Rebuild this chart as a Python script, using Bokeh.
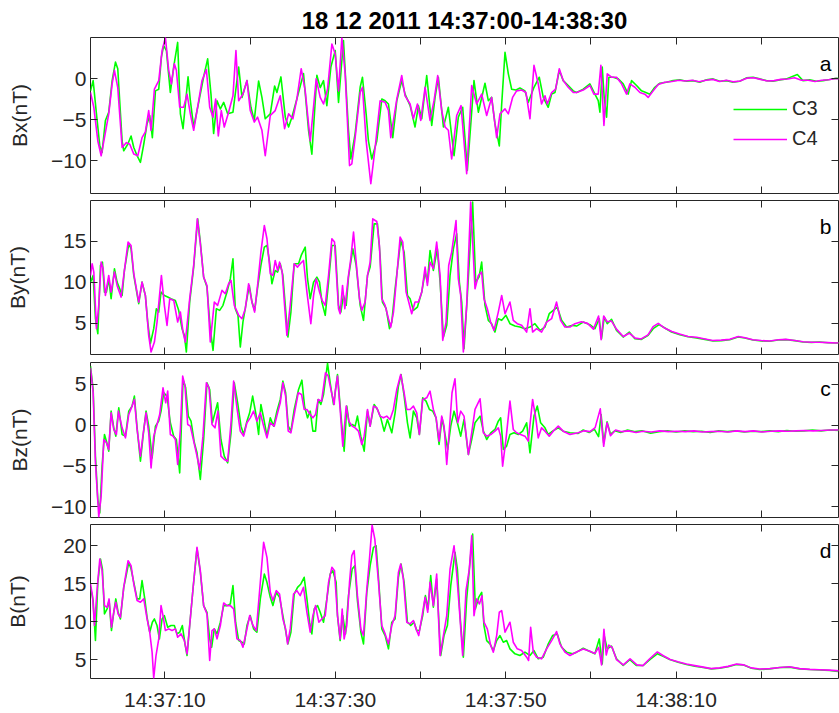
from bokeh.plotting import figure
from bokeh.layouts import column
from bokeh.models import Range1d, FixedTicker, LinearAxis, Legend, LegendItem, Label
from bokeh.embed import file_html
from bokeh.resources import INLINE

# ---------------------------------------------------------------------------
# Magnetic field components, seconds after 14:37:00 UT, 18 Dec 2011 (nT)
# ---------------------------------------------------------------------------

# Bx, C3
T_BX_C3 = [1.27, 1.58, 1.97, 2.36, 2.63, 3.02, 3.41, 3.81, 4.20, 4.47, 4.98, 5.17, 5.64, 6.03, 6.35,
           6.74, 7.13, 7.52, 7.91, 8.22, 8.53, 8.89, 9.28, 9.59, 9.86, 10.18, 10.64, 11.03, 11.50, 11.82,
           12.13, 12.72, 12.99, 13.38, 13.97, 14.55, 15.02, 15.41, 15.72, 16.12, 16.51, 16.90, 17.37, 17.99, 18.66,
           19.05, 19.63, 20.10, 20.49, 21.00, 21.39, 21.78, 22.37, 22.88, 23.15, 23.62, 24.13, 24.52, 24.91, 25.49,
           26.27, 26.86, 27.25, 27.84, 28.23, 28.62, 29.01, 29.48, 29.99, 30.38,
           30.96, 31.55, 31.82, 32.33, 32.92, 33.19, 33.62, 33.89, 34.28, 34.87, 35.46, 35.85, 36.24, 36.75, 37.22,
           37.80, 38.19, 38.78, 39.36, 39.76, 40.15, 40.73, 41.32, 41.71, 42.10, 42.69, 43.27, 43.94, 44.44, 44.95,
           45.50, 46.28, 46.79, 47.57, 47.96, 48.35, 48.74, 49.25, 49.52, 49.92, 50.31, 50.70, 51.21, 51.67, 52.26,
           52.65, 53.32, 53.94, 54.41, 54.99, 55.39, 55.78, 56.29, 56.75, 57.34, 57.93,
           58.32, 59.10, 59.88, 60.47, 60.86, 61.06, 61.33, 61.56, 61.84, 62.11, 62.62, 63.21, 63.79, 64.38, 64.77,
           65.36, 65.94, 66.45, 66.92, 67.50, 68.09, 68.87, 69.65, 70.44, 71.22, 72.00, 72.78, 73.56, 74.34, 75.13,
           75.91, 76.69, 77.47, 78.25, 79.03, 79.81, 80.60, 81.38, 82.16, 82.94, 84.23, 84.89, 85.68, 86.46, 87.24,
           88.02, 88.80, 89.19]
BX_C3 = [-1.5, -0.25, -4.3, -8.2, -9.0, -5.1, -4.1, -0.25, 2.0, 1.2, -7.6, -8.8, -8.0, -7.0, -8.4,
         -9.4, -10.2, -8.0, -5.5, -4.5, -7.2, -1.5, -1.3, 2.6, 4.0, 3.4, -1.7, 1.4, 4.4, -4.3,
         -6.1, 0.2, -2.7, -5.9, -2.9, 0.2, 2.4, -1.9, -6.7, -2.7, -3.7, -2.9, -4.3, -4.1, 1.4,
         -2.3, -0.25, -3.5, -5.1, -0.3, -2.3, -4.9, -4.3, -0.9, -1.7, 0.2, -4.7, -5.9, -4.7, -2.5,
         0.6, -6.3, -9.2, 0.4, -1.1, -0.25, -3.3, 1.4, 3.4, -2.9,
         4.63, -6.3, -9.8, -6.7, -1.06, 0.16, -4.3, -7.6, -9.8, -7.6, -2.5, -2.7, -3.1, -7.2, -2.7,
         -0.25, -1.9, -3.3, -5.9, -3.3, -4.9, 0.37, -5.7, -2.3, 0.16, -5.9, -3.5, -9.4, -4.7, -3.5,
         -11.2, -0.25, -4.1, -0.57, -2.7, -2.3, -5.5, -8.2, -3.3, 3.2, 0.57, -1.3, -1.4, -1.15, -1.5,
         -2.9, -1.06, 0.16, -2.3, -3.5, -1.9, -1.7, 0.98, -0.25, -0.85, -1.5,
         -1.7, -1.3, -0.65, -1.9, -2.7, -4.1, 1.4, -2.3, -4.7, 0.16, 0.16, -0.04, -0.65, -1.9, -0.25,
         -0.85, -1.5, -1.7, -1.9, -1.06, -0.57, -0.45, -0.25, -0.16, -0.33, -0.25, -0.45, -0.16, -0.04, -0.33,
         -0.25, -0.45, -0.33, 0.08, 0.16, -0.04, -0.25, -0.33, -0.16, -0.04, 0.49, -0.25, -0.16, -0.33, -0.25,
         -0.12, 0.04, 0.0]

# Bx, C4
T_BX_C4 = [1.27, 1.66, 2.13, 2.52, 2.91, 3.41, 3.81, 4.08, 4.47, 4.98, 5.49, 5.88, 6.35, 6.82, 7.32,
           7.71, 8.10, 8.38, 8.77, 9.28, 9.67, 10.06, 10.45, 10.76, 11.11, 11.35, 11.74, 12.21, 12.60, 12.99,
           13.38, 13.97, 14.36, 14.87, 15.26, 15.65, 15.96, 16.27, 16.62, 16.97, 17.48, 17.99, 18.34, 18.66, 19.16,
           19.63, 20.02, 20.49, 20.88, 21.39, 21.78, 22.37, 22.95, 23.54, 24.05, 24.52, 25.02, 25.49, 26.00, 26.47,
           27.06, 27.37, 27.76, 28.23, 28.62, 29.09, 29.60, 29.99, 30.38,
           30.77, 31.16, 31.67, 31.94, 32.33, 32.92, 33.19, 33.62, 34.17, 34.68, 35.26, 35.85, 36.24, 36.51, 37.22,
           37.80, 38.19, 38.78, 39.17, 39.64, 40.03, 40.54, 41.12, 41.59, 42.02, 42.49, 42.88, 43.27, 43.66, 44.25,
           44.76, 45.42, 46.01, 46.59, 47.18, 47.77, 48.35, 48.94, 49.33, 49.92, 50.31, 50.81, 51.28, 51.87, 52.38,
           52.85, 53.32, 53.82, 54.21, 54.61, 54.88, 55.39, 55.86, 56.29, 56.75, 57.34, 57.93,
           58.32, 59.10, 59.88, 60.35, 60.86, 61.17, 61.53, 61.92, 62.42, 63.01, 63.60, 64.18, 64.57, 65.16, 65.75,
           66.33, 66.72, 67.31, 67.90, 68.68, 69.5, 70.3, 71.1, 71.9, 72.7, 73.5, 74.3, 75.1, 75.9, 76.7,
           77.5, 78.3, 79.1, 79.9, 80.7, 81.5, 82.3, 83.1, 83.9, 84.7, 85.5, 86.3, 87.1, 87.9, 88.7, 89.2]
BX_C4 = [-1.7, -3.5, -7.6, -9.4, -7.2, -4.3, -0.65, 1.0, -1.1, -8.4, -7.8, -8.0, -9.2, -9.4, -7.2,
         -6.5, -3.9, -6.3, -1.3, -0.25, 3.4, 5.0, 1.0, -0.65, 1.8, 1.0, -3.5, -3.5, -1.9, -4.3,
         -6.3, -2.7, -0.25, 1.1, -3.5, -4.7, -2.5, -7.0, -3.9, -5.9, -4.1, -2.1, 3.4, -2.7, -1.9,
         -0.25, -3.9, -5.3, -4.7, -6.3, -9.4, -4.5, -3.9, -2.1, -6.1, -4.3, -4.9, -2.5, 1.2, -1.5,
         -7.6, -4.3, -0.04, -2.3, -3.1, -1.3, 4.2, 3.0, -1.5,
         4.96, 0.57, -10.6, -10.4, -7.2, -1.7, -1.06, -7.6, -12.8, -8.4, -2.7, -2.9, -3.9, -7.2, -2.5,
         0.37, -2.1, -3.1, -4.9, -3.1, -5.1, -1.06, -5.1, -2.7, 0.37, -3.9, -5.9, -6.3, -9.8, -4.5,
         -3.3, -11.6, -0.85, -3.1, -1.9, -4.5, -2.3, -7.2, -4.3, -3.7, -4.3, -2.3, -1.5, -1.4, -1.7,
         -4.9, 1.6, -0.65, -3.1, -2.1, -3.1, -1.7, -1.3, 1.2, -0.25, -1.06, -1.7,
         -1.7, -1.4, -0.85, -1.9, -1.9, 1.6, -5.7, 0.57, 0.16, 0.16, -0.65, -1.9, -0.65, -1.06, -1.7,
         -1.9, -2.3, -1.5, -0.73, -0.45, -0.35, -0.2, -0.3, -0.2, -0.4, -0.2, -0.1, -0.35, -0.2, -0.4,
         -0.3, 0.05, 0.1, -0.1, -0.3, -0.25, -0.1, -0.05, 0.1, -0.2, -0.2, -0.35, -0.2, -0.15, 0.0, -0.05]

# By, C3
T_BY_C3 = [1.27, 1.58, 1.85, 2.13, 2.44, 2.67, 2.91, 3.14, 3.41, 3.69, 4.08, 4.39, 4.70, 4.98, 5.25,
           5.76, 6.03, 6.35, 6.93, 7.32, 7.71, 7.99, 8.30, 8.69, 9.00, 9.28, 9.55, 9.94, 10.33, 10.72,
           11.23, 11.62, 12.01, 12.29, 12.52, 12.91, 13.38, 13.85, 14.16, 14.55, 14.94, 15.33, 15.65, 16.04, 16.43,
           16.82, 17.29, 17.68, 17.99, 18.26, 18.58, 18.85, 19.16, 19.63, 19.91, 20.22, 20.53, 20.92, 21.27, 21.67,
           21.98, 22.29, 22.56, 22.95, 23.23, 23.54, 23.85, 24.13, 24.44, 24.79, 25.18, 25.69, 26.00, 26.47, 26.74,
           27.06, 27.45, 27.84, 28.15, 28.43, 28.82, 29.21, 29.60,
           29.99, 30.38, 30.65, 30.96, 31.28, 31.55, 32.06, 32.45, 32.92, 33.31, 33.78, 34.09, 34.56, 34.95, 35.26,
           35.53, 35.97, 36.36, 36.63, 37.02, 37.68, 38.08, 38.47, 38.78, 39.17, 39.64, 40.15, 40.54, 40.81, 41.12,
           41.51, 41.98, 42.30, 42.69, 43.08, 43.47, 43.86, 44.25, 44.56, 44.84, 45.11, 45.50, 46.12, 46.48, 46.87,
           47.18, 47.57, 47.96, 48.35, 48.74, 49.13, 49.53, 50.03, 50.50, 51.09, 51.67, 52.26, 52.85, 53.43, 54.02,
           54.61, 55.11, 55.58, 56.05, 56.56, 57.15, 57.85,
           58.32, 59.10, 59.88, 60.47, 60.98, 61.25, 61.56, 61.92, 62.42, 63.01, 63.79, 64.50, 65.16, 65.94, 66.72,
           67.31, 68.01, 68.68, 69.46, 70.44, 71.41, 72.39, 73.37, 74.34, 75.32, 76.30, 77.27, 78.06, 79.03, 80.01,
           80.99, 81.96, 82.94, 83.92, 84.89, 85.87, 86.85, 87.83, 88.80, 89.39]
BY_C3 = [10.04, 10.85, 5.57, 3.74, 12.07, 12.48, 8.82, 8.82, 10.45, 8.01, 11.67, 10.04, 9.23, 8.41, 11.46,
         14.72, 14.1, 10.85, 7.4, 10.04, 8.41, 5.16, 2.52, 4.35, 6.79, 6.38, 8.82, 8.41, 8.21, 8.01,
         7.8, 6.59, 4.35, 3.54, 1.5, 7.6, 11.87, 17.76, 14.92, 10.65, 9.43, 4.35, 1.71, 6.79, 6.59,
         7.2, 8.82, 10.45, 12.89, 6.79, 5.98, 2.11, 5.16, 8.01, 9.63, 7.6, 6.59, 9.63, 12.07, 14.31,
         14.51, 12.48, 9.84, 11.46, 11.26, 12.28, 10.85, 7.2, 3.33, 6.38, 12.28, 12.28, 13.29, 14.31, 10.45,
         8.01, 10.04, 10.65, 10.04, 7.6, 5.98, 10.04, 14.51,
         14.51, 7.2, 6.38, 8.41, 7.2, 10.65, 14.1, 12.07, 7.2, 5.37, 10.85, 11.87, 17.15, 17.15, 13.29,
         7.6, 6.79, 4.35, 5.16, 9.23, 15.12, 13.7, 8.41, 8.01, 6.59, 6.99, 8.82, 11.26, 10.04, 13.9,
         11.46, 14.1, 10.04, 3.33, 4.76, 10.85, 14.1, 15.94, 10.04, 7.6, 1.91, 8.41, 19.8, 10.04, 10.65,
         12.48, 7.2, 5.37, 4.96, 3.94, 5.57, 5.37, 5.98, 4.96, 4.67, 4.55, 4.35, 4.55, 4.96, 4.15,
         4.55, 6.18, 6.59, 6.99, 5.37, 4.55, 4.76,
         4.67, 5.16, 4.84, 4.35, 5.57, 3.13, 5.77, 4.96, 5.49, 4.15, 3.33, 3.94, 3.13, 3.05, 3.54,
         4.35, 4.84, 4.43, 3.94, 3.62, 3.37, 3.21, 3.05, 2.85, 2.89, 3.01, 3.33, 3.21, 2.97, 2.85,
         2.81, 2.97, 3.01, 2.89, 2.72, 2.68, 2.72, 2.64, 2.6, 2.62]

# By, C4
T_BY_C4 = [1.27, 1.46, 1.66, 1.97, 2.24, 2.52, 2.75, 3.02, 3.41, 3.69, 4.08, 4.39, 4.86, 5.25, 5.68,
           6.03, 6.35, 6.93, 7.32, 7.71, 8.10, 8.38, 8.77, 9.08, 9.59, 9.94, 10.25, 10.57, 11.04, 11.50,
           11.82, 12.13, 12.40, 12.91, 13.38, 13.81, 14.16, 14.55, 14.94, 15.33, 15.80, 16.19, 16.70, 17.09, 17.48,
           17.76, 18.15, 18.66, 19.05, 19.44, 19.83, 20.22, 20.53, 20.92, 21.27, 21.67, 21.98, 22.37, 22.68, 22.95,
           23.23, 23.46, 23.77, 24.05, 24.32, 24.71, 25.18, 25.57, 25.88, 26.27, 26.67, 27.13, 27.45, 27.76, 28.15,
           28.46, 28.82, 29.21, 29.60, 29.91,
           30.38, 30.57, 30.85, 31.12, 31.55, 31.82, 32.14, 32.45, 32.84, 33.11, 33.50, 33.78, 34.09, 34.40, 34.87,
           35.18, 35.46, 35.85, 36.24, 36.51, 36.83, 37.22, 37.61, 37.92, 38.31, 38.62, 38.97, 39.36, 39.76, 40.15,
           40.54, 40.81, 41.12, 41.51, 41.90, 42.30, 42.61, 43.00, 43.31, 43.66, 44.17, 44.44, 44.72, 45.03, 45.42,
           45.89, 46.40, 46.79, 47.18, 47.45, 47.84, 48.23, 48.63, 49.13, 49.53, 49.92, 50.50, 50.89, 51.36, 51.87,
           52.46, 52.85, 53.16, 53.63, 54.21, 54.80, 55.39, 55.97, 56.44, 56.95, 57.54, 58.12,
           58.90, 59.60, 60.3, 60.9, 61.2, 61.5, 61.9, 62.4, 63.0, 63.8, 64.5, 65.2, 65.9, 66.7, 67.3,
           67.9, 68.7, 69.5, 70.4, 71.4, 72.4, 73.4, 74.3, 75.3, 76.3, 77.3, 78.1, 79.0, 80.0, 81.0,
           82.0, 82.9, 83.9, 84.9, 85.9, 86.8, 87.8, 88.8, 89.3]
BY_C4 = [10.85, 12.28, 11.26, 4.35, 7.2, 12.48, 11.67, 8.41, 10.85, 8.82, 11.26, 9.63, 8.21, 11.46, 14.92,
         14.51, 11.06, 7.6, 10.04, 8.41, 3.54, 1.5, 2.72, 5.16, 10.85, 7.2, 4.76, 8.01, 7.8, 5.16,
         6.38, 3.94, 2.72, 8.01, 12.07, 17.76, 14.72, 10.65, 9.63, 2.72, 7.6, 7.2, 9.03, 8.62, 9.84,
         10.24, 7.2, 5.98, 5.57, 6.79, 9.84, 7.6, 6.38, 10.04, 13.7, 16.95, 15.33, 11.06, 10.85, 12.68,
         11.46, 12.48, 11.26, 7.2, 3.54, 7.2, 12.28, 11.87, 12.28, 12.68, 8.82, 4.96, 8.41, 10.45, 8.82,
         7.8, 7.2, 10.85, 15.33, 14.92,
         6.79, 6.18, 9.63, 6.79, 10.85, 12.89, 16.14, 12.48, 8.01, 6.59, 7.6, 10.85, 12.48, 17.76, 17.44,
         14.51, 8.01, 7.2, 5.57, 4.55, 6.38, 10.85, 15.53, 14.92, 8.82, 7.6, 6.18, 7.6, 7.6, 8.82,
         11.87, 9.63, 12.48, 11.67, 14.92, 10.85, 2.93, 5.16, 12.07, 13.7, 17.56, 10.45, 8.41, 1.5, 7.2,
         19.8, 9.23, 10.85, 11.26, 8.01, 6.79, 5.16, 4.15, 6.38, 8.41, 6.18, 7.6, 5.37, 4.96, 4.76,
         3.94, 6.79, 3.94, 4.35, 3.94, 5.16, 5.57, 7.6, 5.37, 4.55, 4.55, 4.96,
         5.2, 5.0, 4.3, 5.9, 3.0, 5.9, 5.2, 5.3, 4.3, 3.4, 3.8, 3.2, 3.1, 3.6, 4.6,
         5.0, 4.4, 4.0, 3.7, 3.4, 3.3, 3.1, 2.9, 2.95, 3.05, 3.4, 3.25, 3.0, 2.9, 2.85,
         3.0, 3.05, 2.9, 2.75, 2.7, 2.7, 2.65, 2.6, 2.65]

# Bz, C3
T_BZ_C3 = [1.27, 1.58, 1.85, 2.13, 2.36, 2.63, 2.91, 3.14, 3.41, 3.69, 4.00, 4.24, 4.59, 4.98, 5.37,
           5.76, 6.15, 6.42, 6.74, 7.13, 7.44, 7.79, 8.10, 8.50, 8.89, 9.28, 9.55, 9.86, 10.25, 10.64,
           11.03, 11.35, 11.74, 12.13, 12.44, 12.75, 13.07, 13.46, 13.77, 14.16, 14.55, 14.94, 15.26, 15.57, 15.88,
           16.19, 16.58, 16.97, 17.37, 17.76, 18.15, 18.54, 18.93, 19.24, 19.63, 19.95, 20.30, 20.69, 21.00, 21.27,
           21.59, 21.98, 22.37, 22.76, 23.15, 23.54, 23.85, 24.17, 24.48, 24.79, 25.18, 25.69, 26.08, 26.39, 26.74,
           27.06, 27.37, 27.68, 27.99, 28.30, 28.62, 29.09, 29.40, 29.79,
           29.99, 30.26, 30.57, 31.04, 31.35, 31.67, 31.98, 32.33, 32.60, 32.99, 33.39, 33.78, 34.09, 34.56, 34.95,
           35.34, 35.73, 36.12, 36.63, 37.02, 37.41, 37.72, 38.08, 38.47, 38.78, 39.17, 39.56, 39.87, 40.26, 40.65,
           41.05, 41.44, 41.83, 42.18, 42.53, 42.88, 43.19, 43.55, 43.94, 44.33, 44.72, 45.11, 45.62, 46.01, 46.40,
           46.99, 47.38, 47.77, 48.24, 48.74, 49.13, 49.41, 49.72, 50.11, 50.50, 50.97, 51.48, 51.99, 52.46, 52.85,
           53.32, 53.71, 54.10, 54.61, 54.99, 55.50, 56.17, 56.75, 57.54, 58.51,
           59.1, 59.8, 60.4, 60.9, 61.2, 61.5, 61.9, 62.3, 62.8, 63.5, 64.3, 65.2, 66.0, 67.0, 68.0,
           69.0, 70.0, 71.0, 72.0, 73.0, 74.0, 75.0, 76.0, 77.0, 78.0, 79.0, 80.0, 81.0, 82.0, 83.0,
           84.0, 85.0, 86.0, 87.0, 88.0, 89.2]
BZ_C3 = [7.26, 4.39, -3.81, -9.14, -10.78, -5.04, -1.15, -1.97, -3.2, 1.72, -0.33, -1.35, 2.13, -1.15, -1.35,
         1.72, 2.34, 3.57, -0.33, -4.43, -1.35, 1.72, -0.12, -4.02, -0.12, 0.49, 1.72, 3.98, 3.57, 0.29,
         -1.35, -1.76, -5.86, 5.62, 4.59, 1.11, 0.49, -2.17, -3.4, -6.68, -1.76, 5.21, 4.39, 0.29, 1.52,
         2.75, -1.76, -3.81, -4.63, -0.94, 5.21, 2.75, -0.12, -1.15, 0.49, 1.52, 3.57, 1.31, -1.15, 2.54,
         0.9, -1.35, 0.9, -0.12, 1.72, 3.16, 5.41, 3.98, -0.12, -0.74, 1.93, 4.39, 5.53, 2.34, 0.9,
         1.72, -0.74, -0.74, 3.16, 2.54, 3.77, 7.6, 5.21, 2.54,
         3.98, 6.23, 2.34, -3.2, 2.34, -0.12, 0.08, -0.12, 1.11, -1.35, -3.2, 1.72, -0.12, 2.54, 1.93,
         0.9, -0.74, 0.7, -0.94, 1.52, 4.8, 6.23, 3.57, 0.29, -1.56, 1.72, 0.9, -1.15, 3.36, 2.95,
         1.93, 1.72, 0.9, -2.38, 0.9, -1.15, -2.99, -0.12, 1.72, 0.29, -1.35, 0.7, -3.61, -1.76, 0.29,
         1.11, -0.74, -1.76, -0.94, -0.53, 0.49, 0.9, -2.99, -2.58, -1.15, -0.94, -1.15, -0.74, 0.29, -3.4,
         1.11, 2.34, 0.29, -0.33, -1.15, -0.74, -0.33, -0.74, -0.94, -1.02,
         -0.6, -0.9, -0.5, -1.4, 1.3, -2.2, 0.4, -1.1, -0.7, -0.9, -0.6, -0.8, -0.7, -1.0, -0.8,
         -0.7, -0.85, -0.7, -0.8, -0.75, -0.9, -0.7, -0.8, -0.7, -0.85, -0.75, -0.8, -0.7, -0.8, -0.65,
         -0.75, -0.7, -0.6, -0.7, -0.6, -0.65]

# Bz, C4
T_BZ_C4 = [1.27, 1.58, 1.85, 2.24, 2.52, 2.83, 3.14, 3.41, 3.69, 4.00, 4.31, 4.55, 4.98, 5.37, 5.76,
           6.15, 6.42, 6.74, 7.13, 7.44, 7.79, 8.10, 8.38, 8.69, 9.08, 9.39, 9.78, 10.10, 10.33, 10.64,
           10.96, 11.23, 11.50, 11.82, 12.09, 12.36, 12.68, 12.99, 13.38, 13.77, 14.08, 14.47, 14.87, 15.18, 15.53,
           15.88, 16.23, 16.58, 16.97, 17.37, 17.76, 18.07, 18.46, 18.85, 19.24, 19.63, 20.02, 20.41, 20.80, 21.20,
           21.59, 21.98, 22.37, 22.84, 23.23, 23.54, 23.85, 24.17, 24.48, 24.79, 25.18, 25.65, 26.04, 26.35, 26.67,
           27.06, 27.37, 27.68, 27.99, 28.39, 28.85, 29.17, 29.48, 29.87,
           29.99, 30.26, 30.57, 30.88, 31.28, 31.59, 31.98, 32.33, 32.72, 33.11, 33.39, 33.78, 34.09, 34.48, 34.87,
           35.26, 35.65, 36.04, 36.43, 36.82, 37.22, 37.68, 38.08, 38.39, 38.78, 39.17, 39.56, 39.87, 40.26, 40.73,
           41.12, 41.51, 41.83, 42.18, 42.49, 42.77, 43.08, 43.39, 43.70, 44.05, 44.37, 44.72, 45.11, 45.62, 46.01,
           46.40, 46.99, 47.38, 47.77, 48.24, 48.74, 49.13, 49.41, 49.64, 50.03, 50.50, 50.89, 51.28, 51.75, 52.26,
           52.65, 53.16, 53.55, 53.82, 54.21, 54.61, 55.11, 55.58, 56.17, 56.75, 57.54, 58.51,
           59.2, 59.9, 60.5, 61.1, 61.5, 61.9, 62.3, 62.9, 63.6, 64.4, 65.3, 66.1, 67.1, 68.1, 69.1,
           70.1, 71.1, 72.1, 73.1, 74.1, 75.1, 76.1, 77.1, 78.1, 79.1, 80.1, 81.1, 82.1, 83.1, 84.1,
           85.1, 86.1, 87.1, 88.1, 89.2]
BZ_C4 = [7.05, 3.98, -4.63, -11.27, -8.73, -1.76, -2.17, -2.99, 1.52, -0.53, -1.15, 1.72, -0.33, -1.56, 1.31,
         2.34, 3.16, -0.53, -3.81, -1.15, 1.52, -0.94, -5.25, -1.35, 0.08, 1.31, 4.59, 2.75, 4.18, -1.15,
         -1.35, -1.76, -4.84, -0.53, 6.03, 4.8, 0.08, -0.12, -1.97, -3.81, -5.45, -1.35, 5.21, 4.59, 0.08,
         -0.33, 1.72, -3.81, -4.22, -4.43, 0.29, 5.41, 2.13, -0.74, -1.35, 0.29, 0.9, 1.72, 0.49, 1.52,
         -0.12, -1.56, 0.29, -0.12, 1.52, 2.75, 5.21, 3.57, -0.74, -0.94, 1.31, 3.98, 3.77, 1.93, 1.93,
         1.31, 0.9, 1.31, 3.16, 2.95, 6.44, 6.03, 4.39, 2.54,
         4.18, 6.03, 1.93, -2.58, 2.34, 0.49, -0.12, -0.33, -0.74, -2.38, -1.35, 1.93, -0.12, 2.34, 2.13,
         1.11, 0.9, 1.11, 0.7, 1.93, 4.39, 6.23, 3.98, 1.93, 1.93, 2.34, 1.52, -1.15, 3.16, 3.36,
         4.18, 1.93, 0.9, -1.97, 1.11, -0.12, -4.84, -0.53, 3.98, 5.7, 0.29, 1.72, 1.11, -3.61, -0.94,
         1.93, 3.24, -0.94, -1.35, -1.15, -0.74, -0.33, -1.35, -5.04, -1.76, 2.95, -0.53, -0.94, -1.15, -1.35,
         -1.97, 3.16, 0.7, -1.56, -0.33, -0.74, -1.35, -0.74, -0.12, -0.74, -1.15, -0.94,
         -0.7, -0.8, -0.3, 2.0, -2.6, 0.3, -1.3, -0.6, -0.8, -0.7, -0.9, -0.75, -0.85, -0.7, -0.8,
         -0.75, -0.8, -0.7, -0.85, -0.8, -0.75, -0.85, -0.7, -0.8, -0.7, -0.85, -0.75, -0.7, -0.75, -0.7,
         -0.65, -0.7, -0.65, -0.6, -0.6]

# |B|, C3
T_B_C3 = [1.27, 1.58, 1.85, 2.13, 2.44, 2.67, 2.91, 3.22, 3.45, 3.73, 4.00, 4.24, 4.51, 4.78, 5.17,
          5.49, 5.76, 6.03, 6.35, 6.74, 7.05, 7.32, 7.64, 7.91, 8.22, 8.53, 8.77, 9.08, 9.36, 9.67,
          9.94, 10.33, 10.72, 11.11, 11.43, 11.74, 12.05, 12.36, 12.60, 12.91, 13.30, 13.77, 14.16, 14.55, 14.94,
          15.26, 15.49, 15.80, 16.12, 16.51, 16.90, 17.29, 17.68, 17.99, 18.30, 18.66, 19.05, 19.32, 19.63, 20.02,
          20.41, 20.80, 21.20, 21.67, 21.98, 22.37, 22.68, 23.07, 23.46, 23.85, 24.17, 24.44, 24.79, 25.18, 25.57,
          25.96, 26.35, 26.67, 26.98, 27.25, 27.53, 27.92, 28.23, 28.62, 29.01, 29.40, 29.71, 30.10,
          30.26, 30.57, 30.88, 31.20, 31.55, 31.98, 32.29, 32.60, 33.00, 33.31, 33.70, 34.09, 34.48, 34.79, 35.11,
          35.46, 35.85, 36.24, 36.63, 37.02, 37.41, 37.72, 38.08, 38.47, 38.86, 39.25, 39.56, 39.87, 40.26, 40.58,
          40.89, 41.20, 41.51, 41.90, 42.37, 42.76, 43.16, 43.55, 44.05, 44.33, 44.64, 45.03, 45.42, 45.81, 46.12,
          46.44, 46.83, 47.18, 47.45, 47.77, 48.16, 48.55, 48.94, 49.33, 49.72, 50.11, 50.50, 51.09, 51.67, 52.26,
          52.85, 53.32, 53.82, 54.41, 55.00, 55.50, 56.05, 56.56, 57.15, 57.85,
          58.32, 59.10, 59.88, 60.47, 60.98, 61.33, 61.56, 61.92, 62.42, 63.01, 63.79, 64.57, 65.36, 66.14, 66.92,
          67.78, 68.48, 69.26, 70.24, 71.22, 72.19, 73.17, 74.15, 75.13, 76.10, 77.08, 77.86, 78.84, 79.81, 80.99,
          82.16, 83.33, 84.50, 85.68, 86.85, 88.02, 89.00]
B_C3 = [14.52, 12.77, 7.5, 15.18, 18.25, 16.93, 11.01, 11.67, 12.77, 8.82, 11.23, 12.99, 11.23, 10.35, 14.52,
        16.27, 17.81, 16.93, 15.18, 12.99, 12.99, 15.4, 12.99, 10.57, 8.6, 9.92, 10.35, 9.48, 7.72, 10.35,
        10.79, 9.26, 9.48, 9.48, 8.38, 8.6, 9.48, 7.06, 5.53, 9.48, 14.3, 19.65, 16.49, 12.11, 11.23,
        7.72, 6.62, 9.04, 8.38, 9.92, 12.11, 12.11, 12.33, 14.74, 9.92, 7.5, 7.28, 7.06, 9.48, 10.79,
        9.04, 8.6, 12.99, 16.27, 15.18, 13.2, 12.11, 13.86, 13.2, 10.79, 8.82, 7.06, 8.6, 13.64, 14.52,
        14.96, 15.84, 12.99, 9.92, 8.38, 11.67, 12.11, 11.23, 9.92, 12.99, 16.27, 16.71, 15.18,
        10.79, 7.5, 10.79, 8.38, 13.42, 16.93, 17.37, 12.77, 8.6, 7.06, 13.86, 17.37, 19.78, 20.0, 15.18,
        9.04, 8.16, 6.41, 9.92, 10.35, 15.84, 17.59, 15.18, 9.92, 9.48, 9.92, 8.82, 8.82, 10.79, 13.42,
        11.67, 16.06, 11.89, 15.62, 5.53, 8.16, 9.48, 14.74, 19.13, 16.93, 10.79, 5.31, 12.99, 17.81, 21.54,
        11.67, 13.2, 13.86, 9.48, 7.5, 7.06, 6.19, 7.5, 8.16, 7.28, 7.5, 6.41, 5.75, 5.53, 5.97,
        5.53, 6.19, 5.09, 5.31, 7.06, 8.16, 8.38, 6.62, 5.97, 5.75,
        5.97, 6.49, 6.06, 5.75, 7.72, 4.43, 8.16, 6.41, 6.76, 5.09, 4.21, 5.0, 4.21, 4.21, 5.0,
        5.75, 5.44, 5.0, 4.65, 4.34, 4.12, 3.95, 3.77, 3.86, 4.04, 4.34, 4.3, 3.86, 3.69, 3.77,
        3.95, 4.0, 3.77, 3.69, 3.64, 3.56, 3.42]

# |B|, C4
T_B_C4 = [1.27, 1.50, 1.74, 2.05, 2.36, 2.63, 2.91, 3.22, 3.45, 3.73, 4.00, 4.24, 4.51, 4.78, 5.17,
          5.68, 6.03, 6.35, 6.74, 7.13, 7.52, 7.91, 8.22, 8.50, 8.69, 8.96, 9.28, 9.55, 9.78, 10.06,
          10.45, 10.84, 11.23, 11.50, 11.90, 12.29, 12.60, 12.91, 13.30, 13.77, 14.16, 14.55, 14.94, 15.26, 15.53,
          15.80, 16.12, 16.51, 16.90, 17.29, 17.68, 18.07, 18.46, 18.85, 19.16, 19.55, 19.95, 20.34, 20.73, 21.20,
          21.59, 21.98, 22.37, 22.68, 23.07, 23.46, 23.85, 24.17, 24.40, 24.71, 25.10, 25.49, 25.88, 26.27, 26.67,
          27.06, 27.37, 27.68, 28.07, 28.42, 28.82, 29.21, 29.60, 29.91,
          29.99, 30.26, 30.57, 30.81, 31.04, 31.35, 31.67, 31.94, 32.21, 32.60, 33.00, 33.31, 33.70, 34.01, 34.32,
          34.64, 35.07, 35.46, 35.85, 36.24, 36.63, 37.02, 37.41, 37.68, 37.99, 38.39, 38.78, 39.17, 39.48, 39.79,
          40.19, 40.54, 40.85, 41.12, 41.51, 41.90, 42.30, 42.69, 43.08, 43.47, 43.94, 44.25, 44.56, 44.95, 45.34,
          45.73, 46.01, 46.28, 46.59, 46.91, 47.22, 47.45, 47.84, 48.24, 48.55, 48.94, 49.25, 49.53, 49.92, 50.50,
          50.89, 51.36, 51.87, 52.46, 52.69, 52.93, 53.24, 53.63, 54.21, 54.80, 55.39, 55.97, 56.36, 56.95, 57.54,
          58.32, 59.10, 59.88, 60.47, 60.9, 61.25, 61.53, 61.8, 62.1, 62.5, 63.0, 63.8, 64.6, 65.4, 66.1,
          66.9, 67.8, 68.5, 69.3, 70.2, 71.2, 72.2, 73.2, 74.1, 75.1, 76.1, 77.1, 77.9, 78.8, 79.8,
          81.0, 82.2, 83.3, 84.5, 85.7, 86.8, 88.0, 89.2]
B_C4 = [14.96, 13.42, 9.48, 14.3, 18.25, 16.71, 12.11, 11.89, 12.99, 9.26, 11.23, 12.55, 11.01, 10.57, 14.52,
        18.03, 17.37, 14.96, 12.77, 12.55, 12.99, 10.35, 8.6, 5.97, 2.55, 5.53, 7.72, 12.11, 10.79, 8.82,
        9.04, 8.82, 9.04, 7.94, 8.38, 7.5, 5.75, 9.48, 14.3, 19.78, 16.71, 12.11, 11.01, 4.87, 8.82,
        9.04, 7.72, 9.48, 12.46, 12.11, 12.11, 11.67, 7.72, 7.5, 6.62, 8.6, 10.79, 9.48, 8.82, 15.18,
        20.44, 18.47, 13.86, 12.77, 14.08, 13.64, 10.35, 9.04, 7.06, 9.04, 13.64, 14.08, 13.42, 14.52, 11.23,
        8.6, 10.79, 12.11, 9.92, 10.35, 10.79, 15.18, 17.15, 16.71,
        15.18, 10.79, 7.72, 11.67, 7.72, 9.48, 15.18, 18.69, 19.35, 13.42, 9.04, 8.16, 14.3, 18.25, 22.72,
        20.88, 15.18, 9.48, 8.38, 7.06, 9.48, 10.79, 16.49, 17.59, 15.62, 9.92, 9.7, 10.14, 9.04, 8.16,
        10.79, 13.2, 11.23, 15.18, 12.11, 16.27, 5.53, 8.16, 10.79, 16.93, 20.0, 16.27, 11.67, 5.53, 14.08,
        16.93, 21.32, 10.79, 12.99, 12.33, 13.42, 9.92, 9.04, 6.84, 5.97, 8.16, 11.23, 11.45, 8.6, 9.92,
        7.28, 6.41, 6.19, 5.31, 4.87, 9.26, 5.97, 5.31, 5.09, 6.41, 7.5, 8.69, 7.06, 5.97, 5.53,
        6.0, 6.4, 6.1, 5.8, 6.6, 4.3, 9.0, 5.6, 6.9, 6.6, 5.0, 4.3, 5.1, 4.3, 4.2,
        5.1, 6.0, 5.5, 5.0, 4.7, 4.4, 4.2, 4.0, 3.8, 3.9, 4.1, 4.4, 4.3, 3.9, 3.75,
        3.8, 3.95, 4.05, 3.8, 3.7, 3.65, 3.6, 3.5]

# Time axis: a tick every 10 s, a label every 20 s
X_TICKS = [10, 20, 30, 40, 50, 60, 70, 80]
X_LABEL_TICKS = [10, 30, 50, 70]
X_TICK_LABELS = ["14:37:10", "14:37:30", "14:37:50", "14:38:10"]
X_START, X_END = 1.27, 89.06

TITLE = "18 12 2011 14:37:00-14:38:30"
SERIES_NAMES = ["C3", "C4"]

PANELS = [
    dict(letter="a", ylabel="Bx(nT)", ylim=(-14.0, 5.0), yticks=[-10, -5, 0],
         c3=(T_BX_C3, BX_C3), c4=(T_BX_C4, BX_C4)),
    dict(letter="b", ylabel="By(nT)", ylim=(1.2, 20.0), yticks=[5, 10, 15],
         c3=(T_BY_C3, BY_C3), c4=(T_BY_C4, BY_C4)),
    dict(letter="c", ylabel="Bz(nT)", ylim=(-11.35, 7.7), yticks=[-10, -5, 0, 5],
         c3=(T_BZ_C3, BZ_C3), c4=(T_BZ_C4, BZ_C4)),
    dict(letter="d", ylabel="B(nT)", ylim=(2.5, 22.8), yticks=[5, 10, 15, 20],
         c3=(T_B_C3, B_C3), c4=(T_B_C4, B_C4)),
]

# ---------------------------------------------------------------------------
# Styling and layout
# ---------------------------------------------------------------------------
FONT = "Liberation Sans"
INK = "#262626"
C3_COLOR = "#00ff00"
C4_COLOR = "#ff00ff"
LINE_W = 1.6
FRAME_W = 748
LEFT = 90
# frame height, border above, border below, y-label standoff
GEOMETRY = [(156, 37, 7, 17), (154, 0, 8, 31), (155, 0, 7, 17), (154, 0, 35, 31)]

x_range = Range1d(X_START, X_END)


def tick_only(axis, ticker):
    """An axis that draws inward ticks and nothing else."""
    axis.ticker = ticker
    axis.major_label_text_font_size = "0px"
    axis.major_label_text_color = None
    axis.major_label_standoff = 0
    axis.major_tick_in = 7
    axis.major_tick_out = 0
    axis.major_tick_line_color = INK
    axis.minor_tick_line_color = None
    axis.axis_line_color = None


def make_panel(idx, spec):
    fh, top, bottom, ylab_standoff = GEOMETRY[idx]
    last = idx == len(PANELS) - 1
    y0, y1 = spec["ylim"]
    p = figure(x_range=x_range, y_range=Range1d(y0, y1),
               frame_width=FRAME_W, frame_height=fh,
               min_border_left=LEFT, min_border_right=1,
               min_border_top=top, min_border_bottom=bottom,
               output_backend="svg", toolbar_location=None,
               title=TITLE if idx == 0 else None)
    p.background_fill_color = "white"
    p.border_fill_color = "white"
    p.grid.visible = False
    p.outline_line_color = INK
    p.outline_line_width = 1

    if idx == 0:
        p.title.align = "center"
        p.title.text_font = FONT
        p.title.text_font_size = "24px"
        p.title.text_font_style = "bold"
        p.title.text_color = "black"
        p.title.standoff = 8

    # bottom time axis: labelled ticks every 20 s, unlabelled ones in between
    xa = p.xaxis[0]
    if last:
        xa.ticker = FixedTicker(ticks=X_LABEL_TICKS,
                                minor_ticks=[t for t in X_TICKS if t not in X_LABEL_TICKS])
        xa.major_label_overrides = {t: lab for t, lab in zip(X_LABEL_TICKS, X_TICK_LABELS)}
        xa.major_tick_in = 7
        xa.major_tick_out = 0
        xa.minor_tick_in = 7
        xa.minor_tick_out = 0
        xa.major_tick_line_color = INK
        xa.minor_tick_line_color = INK
        xa.axis_line_color = None
        xa.major_label_text_font = FONT
        xa.major_label_text_color = INK
        xa.major_label_text_font_size = "21px"
        xa.major_label_standoff = 9
    else:
        tick_only(xa, FixedTicker(ticks=X_TICKS))

    # left field axis
    ya = p.yaxis[0]
    ya.ticker = FixedTicker(ticks=spec["yticks"])
    ya.major_tick_in = 7
    ya.major_tick_out = 0
    ya.major_tick_line_color = INK
    ya.minor_tick_line_color = None
    ya.axis_line_color = None
    ya.major_label_text_font = FONT
    ya.major_label_text_font_size = "21px"
    ya.major_label_text_color = INK
    ya.major_label_standoff = 4
    ya.axis_label = spec["ylabel"]
    ya.axis_label_text_font = FONT
    ya.axis_label_text_font_size = "21px"
    ya.axis_label_text_font_style = "normal"
    ya.axis_label_text_color = INK
    ya.axis_label_standoff = ylab_standoff

    # mirrored ticks on the top and right edges of the box
    top_axis = LinearAxis()
    tick_only(top_axis, FixedTicker(ticks=X_TICKS))
    p.add_layout(top_axis, "above")
    right_axis = LinearAxis()
    tick_only(right_axis, FixedTicker(ticks=spec["yticks"]))
    p.add_layout(right_axis, "right")

    t3, v3 = spec["c3"]
    t4, v4 = spec["c4"]
    r3 = p.line(t3, v3, line_color=C3_COLOR, line_width=LINE_W, line_join="round")
    r4 = p.line(t4, v4, line_color=C4_COLOR, line_width=LINE_W, line_join="round")

    # panel letter in the upper-right corner
    sx = (X_END - X_START) / FRAME_W
    sy = (y1 - y0) / fh
    p.add_layout(Label(x=X_END - 13 * sx, y=y1 - 26 * sy, text=spec["letter"],
                       text_font=FONT, text_font_size="21px", text_color="black",
                       text_align="center", text_baseline="middle"))

    if idx == 0:
        legend = Legend(items=[LegendItem(label=SERIES_NAMES[0], renderers=[r3]),
                               LegendItem(label=SERIES_NAMES[1], renderers=[r4])],
                        location=(643, 43))
        legend.border_line_color = None
        legend.background_fill_alpha = 0
        legend.padding = 0
        legend.margin = 0
        legend.spacing = 7
        legend.glyph_width = 54
        legend.glyph_height = 20
        legend.label_height = 20
        legend.label_standoff = 5
        legend.label_text_font = FONT
        legend.label_text_font_size = "20px"
        legend.label_text_color = INK
        p.add_layout(legend)
    return p


figs = [make_panel(i, spec) for i, spec in enumerate(PANELS)]
layout = column(*figs, spacing=0)

open("out.html", "w").write(file_html(layout, INLINE, title="Magnetic field C3 C4"))
